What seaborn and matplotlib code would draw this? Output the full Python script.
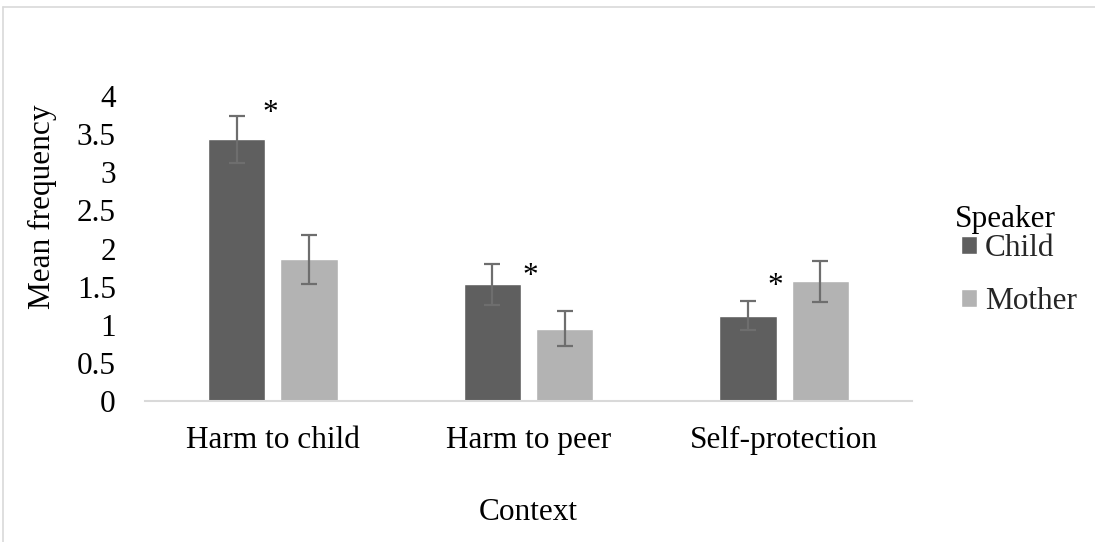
import matplotlib
matplotlib.use("Agg")
import matplotlib.pyplot as plt
from matplotlib.lines import Line2D
import seaborn as sns
import pandas as pd

# Mean frequency of talk per context, by speaker, with standard errors
contexts = ["Harm to child", "Harm to peer", "Self-protection"]
speakers = ["Child", "Mother"]
child_means = [3.43, 1.53, 1.12]
child_errors = [0.31, 0.27, 0.19]
mother_means = [1.86, 0.95, 1.57]
mother_errors = [0.32, 0.23, 0.27]
# significance markers: position along each context and height
star_x = [-0.01, 0.007, -0.035]
star_heights = [3.87, 1.74, 1.60]
y_ticks = [0, 0.5, 1, 1.5, 2, 2.5, 3, 3.5, 4]

df = pd.DataFrame({
    "Context": contexts * 2,
    "Speaker": ["Child"] * 3 + ["Mother"] * 3,
    "Mean": child_means + mother_means,
})
errors = {"Child": child_errors, "Mother": mother_errors}

sns.set_theme(style="white")
plt.rcParams["font.family"] = ["Liberation Serif", "DejaVu Serif"]
FS = 22.5

fig = plt.figure(figsize=(10.95, 5.42), dpi=100)
ax = fig.add_axes([145 / 1095, 141 / 542, 767 / 1095, 305 / 542])

palette = {"Child": "#5f5f5f", "Mother": "#b3b3b3"}
sns.barplot(data=df, x="Context", y="Mean", hue="Speaker", order=contexts,
            hue_order=speakers, palette=palette, errorbar=None,
            width=0.566, gap=0.21, saturation=1, ax=ax)

# error bars centred on each drawn bar
for speaker, container in zip(speakers, ax.containers):
    xs = [b.get_x() + b.get_width() / 2 for b in container]
    ys = [b.get_height() for b in container]
    ax.errorbar(xs, ys, yerr=errors[speaker], fmt="none", ecolor="#6e6e6e",
                elinewidth=1.6, capsize=6, capthick=1.6, zorder=3)

# significance markers
for i, (dx, h) in enumerate(zip(star_x, star_heights)):
    ax.annotate("*", xy=(i + dx, h), xytext=(0, -11), textcoords="offset points",
                ha="center", va="baseline", fontsize=FS, color="black")

ax.set_xlim(-0.5, 2.5)
ax.set_ylim(0, 4)
ax.set_yticks(y_ticks)
ax.set_yticklabels([f"{t:g}" for t in y_ticks])
ax.tick_params(axis="y", length=0, pad=21, labelsize=FS, colors="black")
ax.tick_params(axis="x", length=0, pad=18, labelsize=FS, colors="black")

for side in ["left", "right", "top"]:
    ax.spines[side].set_visible(False)
ax.spines["bottom"].set_color("#d9d9d9")
ax.spines["bottom"].set_linewidth(1.5)

ax.set_xlabel("Context", fontsize=FS, color="black", labelpad=31)
ax.set_ylabel("Mean frequency", fontsize=FS, color="black", va="center")
ax.yaxis.set_label_coords(-0.133, 0.636)

handles, labels = ax.get_legend_handles_labels()
ax.legend(handles, labels, loc="center left",
          bbox_to_anchor=(961 / 1095, 1 - 275 / 542),
          bbox_transform=fig.transFigure, frameon=False,
          fontsize=FS, handlelength=0.51, handleheight=0.51,
          handletextpad=0.25, labelspacing=0.75, borderpad=0,
          borderaxespad=0)
fig.text(955 / 1095, 1 - 219 / 542, "Speaker", fontsize=FS, color="black",
         ha="left", va="center")

# chart frame
fig.add_artist(Line2D([3 / 1095, 3 / 1095], [0, 1 - 7 / 542],
                      transform=fig.transFigure, color="#d9d9d9", lw=1.2))
fig.add_artist(Line2D([3 / 1095, 1], [1 - 7 / 542, 1 - 7 / 542],
                      transform=fig.transFigure, color="#d9d9d9", lw=1.2))

fig.savefig("out.png", dpi=100, facecolor="white")
